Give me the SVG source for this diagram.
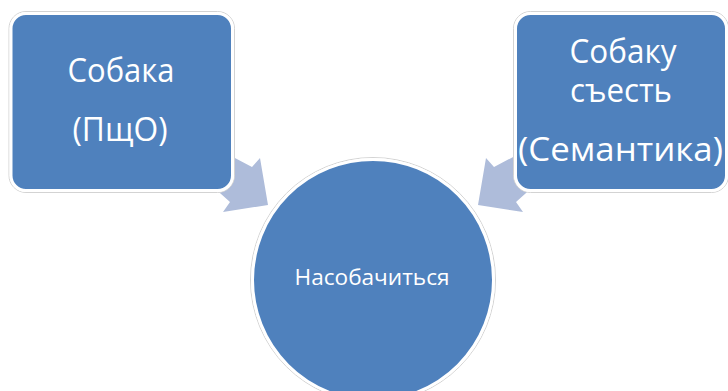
<svg xmlns="http://www.w3.org/2000/svg" width="728" height="391" viewBox="0 0 728 391">
  <style>
    .halo { fill: #ffffff; stroke: #d3d3d3; stroke-width: 1; }
    .node { fill: #4f81bd; stroke: #ffffff; stroke-width: 3; }
    .arrow { fill: #aebcda; stroke: none; }
    .big { font-family: "Open Sans", "Noto Sans", "DejaVu Sans", sans-serif; font-size: 32px; fill: #ffffff; text-anchor: middle; }
    .small { font-family: "Open Sans", "Noto Sans", "DejaVu Sans", sans-serif; font-size: 22px; fill: #ffffff; text-anchor: middle; }
  </style>
  <rect width="728" height="391" fill="#ffffff"/>
  <g id="connectors">
    <polygon class="arrow" points="214,147 252,167 260,158 268,205 223,212 230,202 211,185"/>
    <polygon class="arrow" points="532,147 494,167 486,158 478,205 523,212 516,202 535,185"/>
  </g>
  <g id="node-left">
    <rect class="halo" x="9" y="11.5" width="225.5" height="181" rx="17"/>
    <rect class="node" x="11" y="13.5" width="221.5" height="177" rx="15"/>
    <text class="big" x="121" y="82" textLength="107" lengthAdjust="spacingAndGlyphs">Собака</text>
    <text class="big" x="120" y="141" textLength="95" lengthAdjust="spacingAndGlyphs">(ПщО)</text>
  </g>
  <g id="node-right">
    <rect class="halo" x="513.5" y="11.5" width="215" height="181" rx="17"/>
    <rect class="node" x="515.5" y="13.5" width="211" height="177" rx="15"/>
    <text class="big" x="623" y="63" textLength="107" lengthAdjust="spacingAndGlyphs">Собаку</text>
    <text class="big" x="621" y="102" textLength="102" lengthAdjust="spacingAndGlyphs">съесть</text>
    <text class="big" x="620.5" y="161" textLength="205" lengthAdjust="spacingAndGlyphs">(Семантика)</text>
  </g>
  <g id="node-center">
    <circle class="halo" cx="373" cy="280" r="122.5"/>
    <circle class="node" cx="373" cy="280" r="120.5"/>
    <text class="small" x="372" y="285" textLength="155" lengthAdjust="spacingAndGlyphs">Насобачиться</text>
  </g>
</svg>
